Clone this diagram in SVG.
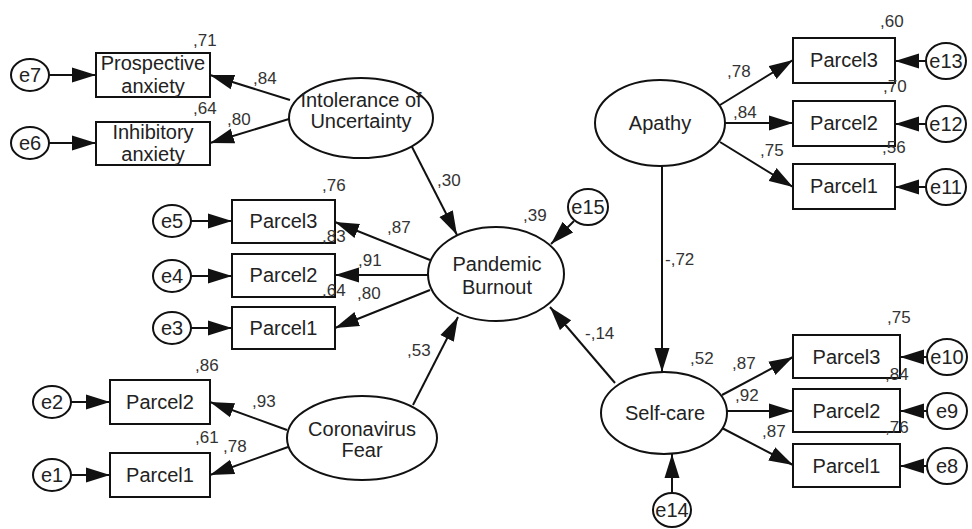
<svg xmlns="http://www.w3.org/2000/svg" width="972" height="529" viewBox="0 0 972 529">
<style>
.n ellipse,.n rect{fill:#fff;stroke:#111;stroke-width:2}
.t{font-family:"Liberation Sans",Arial,sans-serif;font-size:20px;fill:#222;text-anchor:middle}
.w{font-family:"Liberation Sans",Arial,sans-serif;font-size:17px;fill:#333}
#conn line{stroke:#111;stroke-width:2;marker-end:url(#ah)}
</style>
<defs>
<marker id="ah" markerUnits="userSpaceOnUse" markerWidth="24" markerHeight="16" refX="24" refY="8" orient="auto" viewBox="0 0 24 16">
<path d="M0,0.5 L24,8 L0,15.5 z" fill="#111"/>
</marker>
</defs>
<rect width="972" height="529" fill="#fff"/>
<g id="conn">
<line x1="49" y1="75" x2="96" y2="75"/>
<line x1="49" y1="143" x2="96" y2="143"/>
<line x1="290" y1="100" x2="210" y2="75"/>
<line x1="289" y1="119" x2="210" y2="143"/>
<line x1="410" y1="143" x2="457" y2="235"/>
<line x1="430" y1="260" x2="335" y2="222"/>
<line x1="428" y1="275" x2="335" y2="275"/>
<line x1="430" y1="290" x2="335" y2="328"/>
<line x1="191" y1="221" x2="232" y2="221"/>
<line x1="191" y1="276" x2="232" y2="276"/>
<line x1="191" y1="328" x2="232" y2="328"/>
<line x1="574" y1="221" x2="551" y2="244"/>
<line x1="413" y1="405" x2="458" y2="317"/>
<line x1="287" y1="430" x2="210" y2="402"/>
<line x1="288" y1="447" x2="210" y2="475"/>
<line x1="71" y1="402" x2="110" y2="402"/>
<line x1="71" y1="475" x2="110" y2="475"/>
<line x1="615" y1="383" x2="550" y2="307"/>
<line x1="662" y1="166" x2="662" y2="372"/>
<line x1="720" y1="105" x2="793" y2="60"/>
<line x1="725" y1="123" x2="793" y2="123"/>
<line x1="720" y1="142" x2="793" y2="187"/>
<line x1="926" y1="61" x2="895" y2="61"/>
<line x1="926" y1="124" x2="895" y2="124"/>
<line x1="926" y1="187" x2="895" y2="187"/>
<line x1="722" y1="395" x2="793" y2="357"/>
<line x1="727" y1="411" x2="793" y2="411"/>
<line x1="722" y1="428" x2="793" y2="465"/>
<line x1="672" y1="493" x2="672" y2="454"/>
<line x1="927" y1="357" x2="900" y2="357"/>
<line x1="927" y1="411" x2="900" y2="411"/>
<line x1="927" y1="466" x2="900" y2="466"/>
</g>
<g id="e7" class="n"><ellipse cx="30" cy="75" rx="19" ry="16"/><text class="t" x="30" y="82">e7</text></g>
<g id="e6" class="n"><ellipse cx="30" cy="143" rx="19" ry="16"/><text class="t" x="30" y="150">e6</text></g>
<g id="prospective" class="n"><rect x="96" y="53" width="114" height="44"/><text class="t" x="153" y="70">Prospective</text><text class="t" x="153" y="93">anxiety</text></g>
<g id="inhibitory" class="n"><rect x="96" y="122" width="114" height="43"/><text class="t" x="153" y="139">Inhibitory</text><text class="t" x="153" y="161">anxiety</text></g>
<g id="iou" class="n"><ellipse cx="361" cy="118" rx="72" ry="40"/><text class="t" x="361" y="107">Intolerance of</text><text class="t" x="361" y="128">Uncertainty</text></g>
<g id="e5" class="n"><ellipse cx="172" cy="221" rx="19" ry="16"/><text class="t" x="172" y="228">e5</text></g>
<g id="e4" class="n"><ellipse cx="172" cy="276" rx="19" ry="16"/><text class="t" x="172" y="283">e4</text></g>
<g id="e3" class="n"><ellipse cx="172" cy="328" rx="19" ry="16"/><text class="t" x="172" y="335">e3</text></g>
<g id="pb_p3" class="n"><rect x="232" y="200" width="103" height="43"/><text class="t" x="283.5" y="228">Parcel3</text></g>
<g id="pb_p2" class="n"><rect x="232" y="254" width="103" height="43"/><text class="t" x="283.5" y="282">Parcel2</text></g>
<g id="pb_p1" class="n"><rect x="232" y="307" width="103" height="42"/><text class="t" x="283.5" y="335">Parcel1</text></g>
<g id="burnout" class="n"><ellipse cx="496" cy="274" rx="68" ry="47"/><text class="t" x="497" y="271">Pandemic</text><text class="t" x="497" y="294">Burnout</text></g>
<g id="e15" class="n"><ellipse cx="588" cy="207" rx="20" ry="18"/><text class="t" x="588" y="214">e15</text></g>
<g id="e2" class="n"><ellipse cx="52" cy="402" rx="19" ry="16"/><text class="t" x="52" y="409">e2</text></g>
<g id="e1" class="n"><ellipse cx="52" cy="475" rx="19" ry="16"/><text class="t" x="52" y="482">e1</text></g>
<g id="cf_p2" class="n"><rect x="110" y="380" width="100" height="44"/><text class="t" x="160" y="409">Parcel2</text></g>
<g id="cf_p1" class="n"><rect x="110" y="453" width="100" height="44"/><text class="t" x="160" y="482">Parcel1</text></g>
<g id="fear" class="n"><ellipse cx="362" cy="438" rx="75" ry="42"/><text class="t" x="362" y="436">Coronavirus</text><text class="t" x="362" y="457">Fear</text></g>
<g id="apathy" class="n"><ellipse cx="660" cy="123" rx="65" ry="43"/><text class="t" x="660" y="130">Apathy</text></g>
<g id="ap_p3" class="n"><rect x="793" y="38" width="102" height="45"/><text class="t" x="844" y="67">Parcel3</text></g>
<g id="ap_p2" class="n"><rect x="793" y="101" width="102" height="45"/><text class="t" x="844" y="130">Parcel2</text></g>
<g id="ap_p1" class="n"><rect x="793" y="164" width="102" height="45"/><text class="t" x="844" y="193">Parcel1</text></g>
<g id="e13" class="n"><ellipse cx="946" cy="61" rx="20" ry="18"/><text class="t" x="946" y="68">e13</text></g>
<g id="e12" class="n"><ellipse cx="946" cy="124" rx="20" ry="18"/><text class="t" x="946" y="131">e12</text></g>
<g id="e11" class="n"><ellipse cx="946" cy="187" rx="20" ry="18"/><text class="t" x="946" y="194">e11</text></g>
<g id="selfcare" class="n"><ellipse cx="664" cy="413" rx="63" ry="41"/><text class="t" x="665" y="420">Self-care</text></g>
<g id="e14" class="n"><ellipse cx="672" cy="510" rx="19" ry="17"/><text class="t" x="672" y="517">e14</text></g>
<g id="sc_p3" class="n"><rect x="793" y="335" width="107" height="43"/><text class="t" x="846.5" y="364">Parcel3</text></g>
<g id="sc_p2" class="n"><rect x="793" y="389" width="107" height="43"/><text class="t" x="846.5" y="418">Parcel2</text></g>
<g id="sc_p1" class="n"><rect x="793" y="444" width="107" height="43"/><text class="t" x="846.5" y="473">Parcel1</text></g>
<g id="e10" class="n"><ellipse cx="947" cy="357" rx="20" ry="18"/><text class="t" x="947" y="364">e10</text></g>
<g id="e9" class="n"><ellipse cx="947" cy="411" rx="20" ry="18"/><text class="t" x="947" y="418">e9</text></g>
<g id="e8" class="n"><ellipse cx="947" cy="466" rx="20" ry="18"/><text class="t" x="947" y="473">e8</text></g>
<g id="weights">
<text class="w" x="193" y="46">,71</text>
<text class="w" x="253" y="84">,84</text>
<text class="w" x="193" y="114">,64</text>
<text class="w" x="227" y="125">,80</text>
<text class="w" x="437" y="186">,30</text>
<text class="w" x="322" y="191">,76</text>
<text class="w" x="387" y="233">,87</text>
<text class="w" x="322" y="242">,83</text>
<text class="w" x="358" y="266">,91</text>
<text class="w" x="322" y="296">,64</text>
<text class="w" x="357" y="299">,80</text>
<text class="w" x="523" y="221">,39</text>
<text class="w" x="407" y="356">,53</text>
<text class="w" x="585" y="339">-,14</text>
<text class="w" x="195" y="371">,86</text>
<text class="w" x="252" y="407">,93</text>
<text class="w" x="195" y="443">,61</text>
<text class="w" x="223" y="452">,78</text>
<text class="w" x="880" y="27">,60</text>
<text class="w" x="727" y="77">,78</text>
<text class="w" x="883" y="92">,70</text>
<text class="w" x="733" y="118">,84</text>
<text class="w" x="760" y="156">,75</text>
<text class="w" x="882" y="153">,56</text>
<text class="w" x="665" y="265">-,72</text>
<text class="w" x="887" y="323">,75</text>
<text class="w" x="690" y="364">,52</text>
<text class="w" x="732" y="369">,87</text>
<text class="w" x="885" y="380">,84</text>
<text class="w" x="735" y="401">,92</text>
<text class="w" x="762" y="437">,87</text>
<text class="w" x="885" y="433">,76</text>
</g>
</svg>
